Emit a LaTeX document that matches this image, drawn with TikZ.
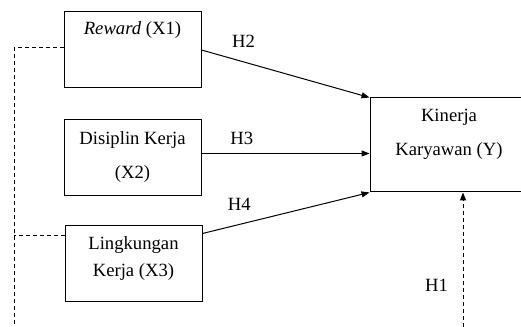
\documentclass[tikz,border=0pt]{standalone}
\usepackage{fontspec}
\setmainfont{Liberation Serif}
\usetikzlibrary{arrows.meta}
\begin{document}
\begin{tikzpicture}[x=0.75pt, y=-0.75pt, font=\rmfamily\fontsize{14}{17}\selectfont, line width=0.75pt,
        varbox/.style={draw, rectangle, minimum width=102.75pt, minimum height=57pt, align=center},
        hyp/.style={-{Triangle[length=6pt,width=4.5pt]}},
        ctrl/.style={dash pattern=on 3pt off 2.25pt}]
                \useasboundingbox (0,0) rectangle (521,327);
                % variables
                \node at (132.5,50) [varbox, label={[anchor=north, inner sep=0pt, yshift=-7pt]north:{\textit{Reward} (X1)}}] (X1) {};
                \node at (132.5,157.5) [varbox] (X2) {Disiplin Kerja\\[8.5pt](X2)};
                \node at (133.5,264) [varbox, text depth=11.5pt] (X3) {Lingkungan\\[3pt]Kerja (X3)};
                \node at (449,145) [varbox, minimum width=118.5pt, minimum height=70.5pt, text depth=19pt] (Y) {Kinerja\\[9pt]Karyawan (Y)};
                % hypotheses
                \draw[hyp] (X1.east) -- (Y.north west) node[pos=0.25, above=7pt] (h2) {H2};
                \draw[hyp] ([yshift=3pt]X2.east) -- ([yshift=3pt]Y.west |- X2.east) node[pos=0.24, above=3pt] (h3) {H3};
                \draw[hyp] ([yshift=-6pt]X3.north east) -- (Y.south west) node[pos=0.22, above=7pt] (h4) {H4};
                \coordinate (b1) at (463,327);
                \coordinate (b0) at (14,327);
                \draw[hyp, ctrl] (b1) -- (b1 |- Y.south) node[pos=0.31, left=7.5pt] (h1) {H1};
                % simultaneous
                \draw[ctrl] ([yshift=1.5pt]X1.west) -- ([yshift=1.5pt]X1.west -| b0) -- (b0);
                \draw[ctrl] ([yshift=21pt]X3.west) -- ([yshift=21pt]X3.west -| b0);
            \end{tikzpicture}
\end{document}
